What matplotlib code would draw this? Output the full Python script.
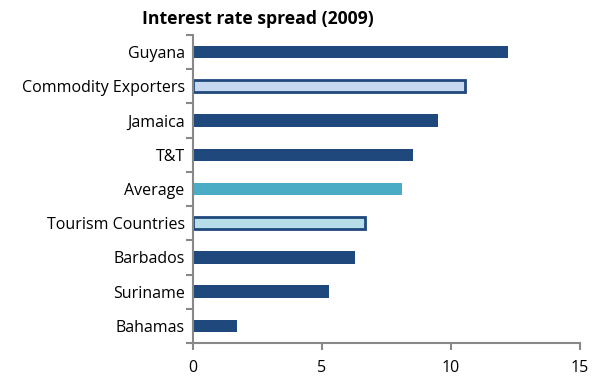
import matplotlib.pyplot as plt
import numpy as np

countries = ["Guyana", "Commodity Exporters", "Jamaica", "T&T", "Average",
             "Tourism Countries", "Barbados", "Suriname", "Bahamas"]
spread = [12.2, 10.55, 9.5, 8.53, 8.1, 6.67, 6.28, 5.27, 1.7]

dark = "#1F497D"
fills = [dark, "#C6D9F1", dark, dark, "#4BACC6", "#B7DEE8", dark, dark, dark]
edges = [dark, dark, dark, dark, "#4BACC6", dark, dark, dark, dark]
widths = [0, 2, 0, 0, 0, 2, 0, 0, 0]

plt.rcParams['font.family'] = ['Open Sans', 'DejaVu Sans']

fig = plt.figure(figsize=(5.97, 3.84), dpi=100)
ax = fig.add_axes([0.3233, 0.1068, 0.6482, 0.8021])

y = np.arange(len(countries))
ax.barh(y, spread, height=0.36, color=fills, edgecolor=edges, linewidth=widths)

ax.set_xlim(0, 15)
ax.set_ylim(len(countries) - 0.5, -0.5)
ax.set_xticks([0, 5, 10, 15])
ax.set_yticks(y)
ax.set_yticklabels(countries)
ax.set_yticks(np.arange(-0.5, len(countries)), minor=True)

gray = "#888888"
for s in ["top", "right"]:
    ax.spines[s].set_visible(False)
for s in ["left", "bottom"]:
    ax.spines[s].set_color(gray)
    ax.spines[s].set_linewidth(1.5)

ax.tick_params(axis="y", which="major", length=0, pad=6, labelsize=11.5)
ax.tick_params(axis="y", which="minor", length=5, width=1.5, color=gray)
ax.tick_params(axis="x", length=5, width=1.5, color=gray, pad=7, labelsize=11.5)

fig.text(0.432, 0.975, "Interest rate spread (2009)", ha="center", va="top",
         fontsize=12.7, fontweight="bold")

fig.savefig("out.png", dpi=100)
